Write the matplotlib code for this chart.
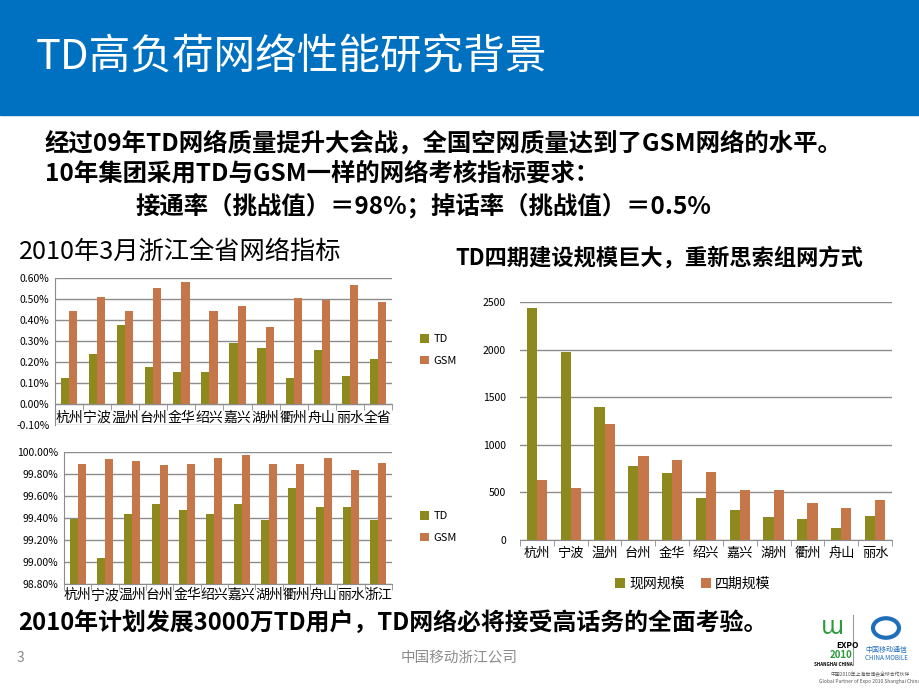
import matplotlib.pyplot as plt
import numpy as np
from matplotlib.patches import Rectangle, Circle
from matplotlib.lines import Line2D

plt.rcParams['font.family'] = ['Noto Sans CJK SC', 'DejaVu Sans']

# 掉话率 (%)
cities_drop = ['杭州', '宁波', '温州', '台州', '金华', '绍兴', '嘉兴', '湖州', '衢州', '舟山', '丽水', '全省']
drop_td = [0.121, 0.236, 0.373, 0.178, 0.154, 0.150, 0.288, 0.264, 0.121, 0.255, 0.135, 0.215]
drop_gsm = [0.440, 0.506, 0.444, 0.549, 0.578, 0.440, 0.465, 0.368, 0.502, 0.492, 0.563, 0.483]

# 接通率 (%)
cities_conn = ['杭州', '宁波', '温州', '台州', '金华', '绍兴', '嘉兴', '湖州', '衢州', '舟山', '丽水', '浙江']
conn_td = [99.39, 99.04, 99.44, 99.53, 99.47, 99.44, 99.53, 99.38, 99.67, 99.50, 99.50, 99.38]
conn_gsm = [99.89, 99.94, 99.92, 99.88, 99.89, 99.95, 99.97, 99.89, 99.89, 99.95, 99.84, 99.90]

# 建设规模
cities_scale = ['杭州', '宁波', '温州', '台州', '金华', '绍兴', '嘉兴', '湖州', '衢州', '舟山', '丽水']
scale_now = [2437, 1975, 1398, 778, 705, 440, 313, 239, 219, 124, 251]
scale_p4 = [630, 546, 1219, 884, 843, 716, 524, 524, 387, 334, 420]

TD_COLOR = '#8E891E'
GSM_COLOR = '#C6774A'
GRID = '#8C8C8C'

W, H = 920, 690
fig = plt.figure(figsize=(9.2, 6.9), dpi=100)


def box(l, t, r, b):
    return [l / W, 1 - b / H, (r - l) / W, (b - t) / H]


def fx(x):
    return x / W


def fy(y):
    return 1 - y / H


# header band
fig.patches.append(Rectangle((0, fy(115)), 1, 115 / H, transform=fig.transFigure,
                             color='#0070C0', zorder=0))
fig.text(fx(36), fy(58), 'TD高负荷网络性能研究背景', color='white', fontsize=30,
         va='center', ha='left')

body = dict(fontsize=17.6, fontweight='bold', va='center', ha='left', color='black')
fig.text(fx(45), fy(143), '经过09年TD网络质量提升大会战，全国空网质量达到了GSM网络的水平。', **body)
fig.text(fx(45), fy(174), '10年集团采用TD与GSM一样的网络考核指标要求：', **body)
fig.text(fx(136), fy(206), '接通率（挑战值）＝98%；掉话率（挑战值）＝0.5%', **body)

fig.text(fx(19), fy(252), '2010年3月浙江全省网络指标', fontsize=18.2, va='center', ha='left')
fig.text(fx(455), fy(258), 'TD四期建设规模巨大，重新思索组网方式', fontsize=16,
         fontweight='bold', va='center', ha='left')


def style_axis(ax, n, labels, xfs):
    ax.set_xlim(-0.5, n - 0.5)
    ax.set_xticks(np.arange(n))
    ax.set_xticklabels(labels, fontsize=xfs)
    ax.set_xticks(np.arange(n + 1) - 0.5, minor=True)
    ax.tick_params(axis='x', which='major', length=0, pad=3)
    ax.tick_params(axis='x', which='minor', length=4, color=GRID, direction='out')
    ax.tick_params(axis='y', length=0, labelsize=7.5, pad=4)
    for s in ['top', 'right']:
        ax.spines[s].set_visible(False)
    ax.spines['left'].set_color(GRID)
    ax.spines['bottom'].set_color(GRID)
    ax.yaxis.grid(True, color=GRID, linewidth=1)
    ax.set_axisbelow(True)


bw = 0.29

# chart 1: drop rate
ax1 = fig.add_axes(box(55, 277.7, 392, 425))
x = np.arange(len(cities_drop))
ax1.bar(x - bw / 2, drop_td, bw, color=TD_COLOR, label='TD')
ax1.bar(x + bw / 2, drop_gsm, bw, color=GSM_COLOR, label='GSM')
style_axis(ax1, len(cities_drop), cities_drop, 10)
ax1.tick_params(axis='x', which='major', pad=5)
ax1.set_ylim(-0.1, 0.6)
ax1.set_yticks(np.arange(-0.1, 0.61, 0.1))
ax1.set_yticklabels(['%.2f%%' % v for v in np.arange(-0.1, 0.61, 0.1)])
ax1.spines['bottom'].set_position(('data', 0))
ax1.legend(loc='center left', bbox_to_anchor=(fx(410), fy(350)), bbox_transform=fig.transFigure,
           frameon=False, fontsize=8, handlelength=0.8, handleheight=0.8, handletextpad=0.4,
           labelspacing=1.0)

# chart 2: connection rate
ax2 = fig.add_axes(box(64, 452, 392, 584))
x = np.arange(len(cities_conn))
ax2.bar(x - bw / 2, conn_td, bw, color=TD_COLOR, label='TD')
ax2.bar(x + bw / 2, conn_gsm, bw, color=GSM_COLOR, label='GSM')
style_axis(ax2, len(cities_conn), cities_conn, 10)
ax2.set_ylim(98.8, 100.0)
ticks2 = np.linspace(98.8, 100.0, 7)
ax2.set_yticks(ticks2)
ax2.set_yticklabels(['%.2f%%' % v for v in ticks2])
ax2.legend(loc='center left', bbox_to_anchor=(fx(410), fy(527)), bbox_transform=fig.transFigure,
           frameon=False, fontsize=8, handlelength=0.8, handleheight=0.8, handletextpad=0.4,
           labelspacing=1.0)

# chart 3: network scale
ax3 = fig.add_axes(box(520, 302, 892, 540))
x = np.arange(len(cities_scale))
bw3 = 0.3
ax3.bar(x - bw3 / 2, scale_now, bw3, color=TD_COLOR, label='现网规模')
ax3.bar(x + bw3 / 2, scale_p4, bw3, color=GSM_COLOR, label='四期规模')
style_axis(ax3, len(cities_scale), cities_scale, 9.5)
ax3.tick_params(axis='x', which='major', pad=5)
ax3.set_ylim(0, 2500)
ax3.set_yticks(np.arange(0, 2501, 500))
ax3.tick_params(axis='y', labelsize=7.5, pad=10)
ax3.spines['left'].set_visible(False)
fig.legend(*ax3.get_legend_handles_labels(), loc='center', bbox_to_anchor=(fx(693), fy(584)),
           ncol=2, frameon=False, fontsize=10, handlelength=0.7, handleheight=0.7,
           handletextpad=0.3, columnspacing=1.2)

# footer
fig.text(fx(18), fy(623), '2010年计划发展3000万TD用户，TD网络必将接受高话务的全面考验。',
         **dict(body, fontsize=17.2))
fig.text(fx(17), fy(658), '3', fontsize=10, color='#8C8C8C', va='center', ha='left')
fig.text(fx(459), fy(658), '中国移动浙江公司', fontsize=10.5, color='#8C8C8C', va='center', ha='center')

# logos (approximation)
fig.text(fx(832), fy(628), 'ɯ', fontsize=17, color='#2E9B3A', va='center', ha='center')
fig.text(fx(836), fy(646), 'EXPO', fontsize=6, fontweight='bold', va='center', ha='left')
fig.text(fx(830), fy(655), '2010', fontsize=7, fontweight='bold', color='#2E9B3A', va='center', ha='left')
fig.text(fx(833), fy(665), 'SHANGHAI CHINA', fontsize=3.3, fontweight='bold', va='center', ha='center')
fig.lines.append(Line2D([fx(853), fx(853)], [fy(615), fy(665)], transform=fig.transFigure,
                        color='#999999', linewidth=0.8))
fig.patches.append(Circle((fx(886), fy(628)), 13 / W, transform=fig.transFigure,
                          facecolor='none', edgecolor='#1E6FB8', linewidth=3))
fig.text(fx(886), fy(650), '中国移动通信', fontsize=5, color='#1E6FB8', va='center', ha='center')
fig.text(fx(886), fy(658), 'CHINA MOBILE', fontsize=4.5, color='#1E6FB8', va='center', ha='center')
fig.text(fx(870), fy(675), '中国2010年上海世博会全球合作伙伴', fontsize=3.5, color='#555555',
         va='center', ha='center')
fig.text(fx(870), fy(682), 'Global Partner of Expo 2010 Shanghai China', fontsize=3.5,
         color='#555555', va='center', ha='center')

fig.savefig('out.png', dpi=100)
